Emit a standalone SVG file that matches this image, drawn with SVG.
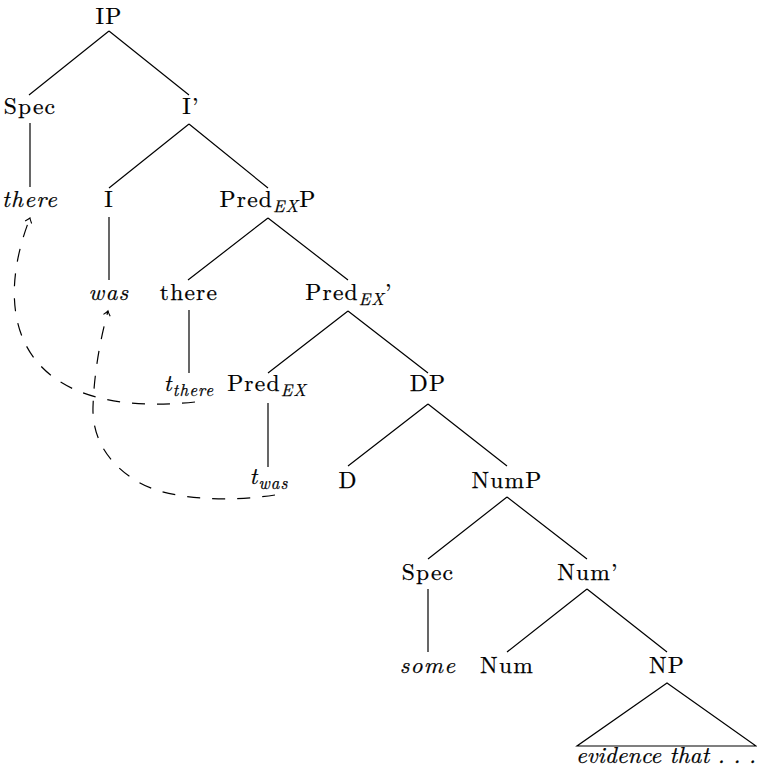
<svg xmlns="http://www.w3.org/2000/svg" width="757" height="773" viewBox="0 0 757 773">
  <style>
    .lbl text { font-family: "Latin Modern Roman", "CMU Serif", "Liberation Serif", "Times New Roman", Tinos, "Noto Serif", "DejaVu Serif", FreeSerif, serif; font-size: 23.5px; fill: #000; stroke: #000; stroke-width: 0.25; text-anchor: middle; letter-spacing: 1.2px; }
    .it { font-style: italic; }
    .sub { font-size: 17px; font-style: italic; letter-spacing: 1px; }
    .edge { stroke: #000; stroke-width: 1.2; fill: none; }
    .move { stroke: #000; stroke-width: 1.2; fill: none; stroke-dasharray: 13 12; }
  </style>
  <defs>
    <marker id="tip" markerWidth="12" markerHeight="12" refX="0" refY="0" viewBox="-6 -6 12 12" orient="auto" markerUnits="userSpaceOnUse">
      <path d="M-4.5,-3.5 Q-1.5,-0.8 0,0 Q-1.5,0.8 -4.5,3.5" fill="none" stroke="#000" stroke-width="1.1"/>
    </marker>
  </defs>

  <rect width="757" height="773" fill="#fff"/>

  <!-- tree branches -->
  <g id="edges">
    <path class="edge" d="M109,31 L29,95 M109,31 L189,95"/>
    <path class="edge" d="M30,123 L30,187"/>
    <path class="edge" d="M189,124 L109,188 M189,124 L268,188"/>
    <path class="edge" d="M109,217 L109,280"/>
    <path class="edge" d="M268,218 L188,280 M268,218 L348,280"/>
    <path class="edge" d="M189,310 L189,373"/>
    <path class="edge" d="M348,311 L268,373 M348,311 L428,373"/>
    <path class="edge" d="M268,403 L268,467"/>
    <path class="edge" d="M428,404 L348,466 M428,404 L507,466"/>
    <path class="edge" d="M507,497 L428,559 M507,497 L587,559"/>
    <path class="edge" d="M428,589 L428,652"/>
    <path class="edge" d="M587,589 L507,652 M587,589 L667,652"/>
    <path class="edge" d="M667,683 L577,746 L756,746 Z"/>
  </g>

  <!-- movement arrows -->
  <g id="movement">
    <path class="move" d="M195,402 C20,420 -10,320 30,218" marker-end="url(#tip)"/>
    <path class="move" d="M275,495 C230,502 170,500 140,483 S92,440 93,407 S100,340 108,311" marker-end="url(#tip)"/>
  </g>

  <g class="lbl">
    <g id="n-ip"><text x="109" y="24">IP</text></g>
    <g id="n-spec1"><text x="30" y="114">Spec</text></g>
    <g id="n-ibar"><text x="191" y="114">I’</text></g>
    <g id="n-there1"><text class="it" x="30" y="207">there</text></g>
    <g id="n-i"><text x="109" y="207">I</text></g>
    <g id="n-predexp"><text x="268" y="207">Pred<tspan class="sub" dy="5">EX</tspan><tspan dy="-5">P</tspan></text></g>
    <g id="n-was"><text class="it" x="109" y="300">was</text></g>
    <g id="n-there2"><text x="189" y="300">there</text></g>
    <g id="n-predexbar"><text x="349" y="300">Pred<tspan class="sub" dy="5">EX</tspan><tspan dy="-5">’</tspan></text></g>
    <g id="n-tthere"><text x="189" y="391"><tspan class="it">t</tspan><tspan class="sub" dy="5">there</tspan></text></g>
    <g id="n-predex"><text x="267" y="391">Pred<tspan class="sub" dy="5">EX</tspan></text></g>
    <g id="n-dp"><text x="428" y="391">DP</text></g>
    <g id="n-twas"><text x="269" y="484"><tspan class="it">t</tspan><tspan class="sub" dy="5">was</tspan></text></g>
    <g id="n-d"><text x="348" y="488">D</text></g>
    <g id="n-nump"><text x="507" y="488">NumP</text></g>
    <g id="n-spec2"><text x="428" y="580">Spec</text></g>
    <g id="n-numbar"><text x="588" y="580">Num’</text></g>
    <g id="n-some"><text class="it" x="428" y="673">some</text></g>
    <g id="n-num"><text x="507" y="673">Num</text></g>
    <g id="n-np"><text x="667" y="673">NP</text></g>
    <g id="n-evidence"><text class="it" x="666" y="763" style="letter-spacing:0px">evidence that . . .</text></g>
  </g>
</svg>
